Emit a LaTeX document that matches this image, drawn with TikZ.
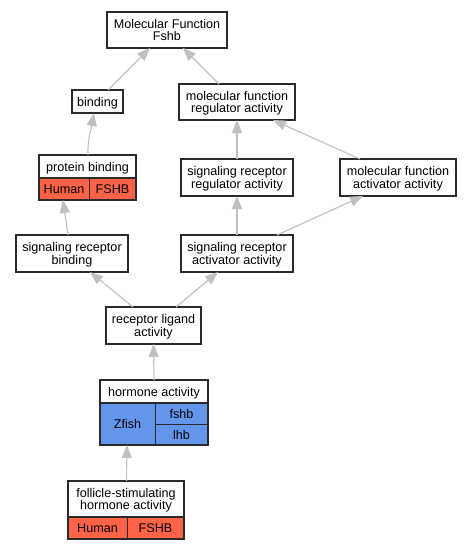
\documentclass[tikz,border=0pt]{standalone}
\usepackage{fontspec}
\setmainfont{Liberation Sans}
\usetikzlibrary{arrows.meta}
\definecolor{edgegray}{HTML}{C0C0C0}
\definecolor{redcell}{HTML}{FF6347}
\definecolor{bluecell}{HTML}{6495ED}
\definecolor{boxline}{HTML}{2A2A2A}
\begin{document}
\begin{tikzpicture}[x=1pt,y=-1pt,
  every node/.style={font=\fontsize{12.6}{12.7}\selectfont, inner sep=0pt, outer sep=0pt, align=center},
  term/.style={draw=boxline, line width=1.2pt, fill=white, minimum width=#1, text depth=0pt},
  cell/.style={draw=boxline, line width=1.0pt, minimum width=#1},
  redc/.style={cell=#1, fill=redcell},
  bluec/.style={cell=#1, fill=bluecell},
  isa/.style={draw=edgegray, line width=1.1pt, -{Triangle[length=13pt,width=10pt]}}
]
\useasboundingbox (0,0) rectangle (471,549);
\fill[white] (0,0) rectangle (471,549);

% nodes
\node[term=120pt, minimum height=36pt] (mf) at (167,30) {Molecular Function\\Fshb};
\node[term=51pt, minimum height=23pt] (bind) at (97.5,101.5) {binding};
\node[term=116pt, minimum height=36pt] (mfr) at (237,102) {molecular function\\regulator activity};

\node[term=97pt, minimum height=23pt] (pb) at (87.5,166.5) {protein binding};
\node[redc=50pt, minimum height=22pt] (pbh) at (64,189) {Human};
\node[redc=47pt, minimum height=22pt] (pbf) at (112.5,189) {FSHB};

\node[term=112pt, minimum height=37pt] (srr) at (237,177.5) {signaling receptor\\regulator activity};
\node[term=116pt, minimum height=37pt] (mfa) at (398,177.5) {molecular function\\activator activity};

\node[term=112pt, minimum height=37pt] (srb) at (72,253.5) {signaling receptor\\binding};
\node[term=112pt, minimum height=37pt] (sra) at (237,253.5) {signaling receptor\\activator activity};

\node[term=95pt, minimum height=37pt] (rla) at (153.5,325.5) {receptor ligand\\activity};

\node[term=108pt, minimum height=23pt] (ha) at (154,391.5) {hormone activity};
\node[bluec=55pt, minimum height=42pt] (haz) at (127.5,424) {Zfish};
\node[bluec=53pt, minimum height=21pt] (haf) at (181.5,413.5) {fshb};
\node[bluec=53pt, minimum height=21pt] (hal) at (181.5,434.5) {lhb};
\draw[boxline, line width=1.2pt] (100,380) rectangle (208,445);

\node[term=116pt, minimum height=36pt] (fsh) at (126,499) {follicle-stimulating\\hormone activity};
\node[redc=59pt, minimum height=22pt] (fshh) at (97.5,528) {Human};
\node[redc=57pt, minimum height=22pt] (fshf) at (155.5,528) {FSHB};
\draw[boxline, line width=1.2pt] (68,481) rectangle (184,539);
\draw[boxline, line width=1.2pt] (39,155) rectangle (136,200);

% edges
\draw[isa] ([xshift=10.5pt]bind.north) -- ([xshift=-17pt]mf.south);
\draw[isa] ([xshift=-18pt]mfr.north) -- ([xshift=16pt]mf.south);
\draw[isa] ([xshift=0.5pt]pb.north) to[out=92,in=-100] ([xshift=-3.5pt]bind.south);
\draw[isa] (srr.north) -- (mfr.south);
\draw[isa] ([xshift=-38pt]mfa.north) -- ([xshift=36pt]mfr.south);
\draw[isa] ([xshift=-4pt]srb.north) -- ([xshift=-1pt]pbh.south);
\draw[isa] (sra.north) -- (srr.south);
\draw[isa] ([xshift=40pt]sra.north) -- ([xshift=-35pt]mfa.south);
\draw[isa] ([xshift=-20.5pt]rla.north) -- ([xshift=18pt]srb.south);
\draw[isa] ([xshift=22.5pt]rla.north) -- ([xshift=-19pt]sra.south);
\draw[isa] (ha.north) -- (rla.south);
\draw[isa] ([xshift=0.5pt]fsh.north) -- ([xshift=-0.5pt]haz.south);
\end{tikzpicture}
\end{document}
